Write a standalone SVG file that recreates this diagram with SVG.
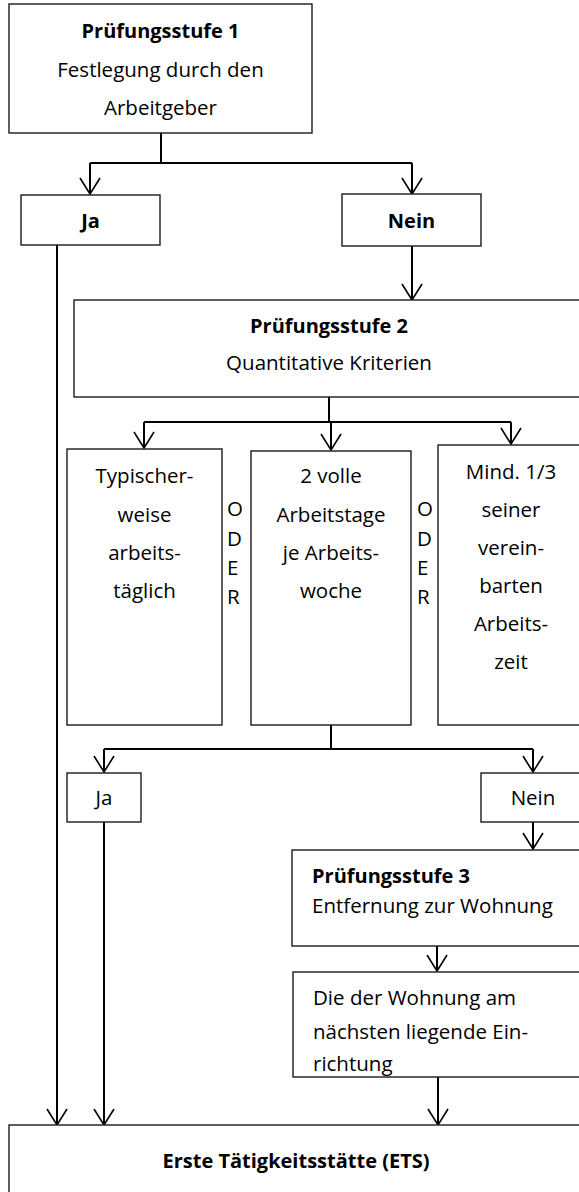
<svg xmlns="http://www.w3.org/2000/svg" width="579" height="1192" viewBox="0 0 579 1192">
<style>
.box{fill:#fff;stroke:#1a1a1a;stroke-width:1.4}
.con{fill:none;stroke:#000;stroke-width:2}
.t{font-family:"Open Sans","Liberation Sans",sans-serif;font-size:20.5px;fill:#000}
.b{font-weight:bold;font-size:20px}
.c{text-anchor:middle}
</style>
<defs>
<marker id="v" markerUnits="userSpaceOnUse" orient="auto" markerWidth="20" markerHeight="24" viewBox="-18 -12 20 24" refX="0" refY="0" overflow="visible">
<path d="M-16,-10 L0,0 L-16,10" fill="none" stroke="#000" stroke-width="1.6"/>
</marker>
</defs>
<rect width="579" height="1192" fill="#fff"/>
<g id="connectors">
<path class="con" d="M161,133 V163 M90,163 H412"/>
<path class="con" d="M90,163 V194" marker-end="url(#v)"/>
<path class="con" d="M412,163 V194" marker-end="url(#v)"/>
<path class="con" d="M57,245 V1125" marker-end="url(#v)"/>
<path class="con" d="M412,246 V300" marker-end="url(#v)"/>
<path class="con" d="M329,397 V422 M144,422 H511"/>
<path class="con" d="M144,422 V448" marker-end="url(#v)"/>
<path class="con" d="M331,422 V450" marker-end="url(#v)"/>
<path class="con" d="M511,422 V444" marker-end="url(#v)"/>
<path class="con" d="M331,725 V749 M104,749 H533"/>
<path class="con" d="M104,749 V772" marker-end="url(#v)"/>
<path class="con" d="M533,749 V772" marker-end="url(#v)"/>
<path class="con" d="M104,822 V1125" marker-end="url(#v)"/>
<path class="con" d="M533,822 V849" marker-end="url(#v)"/>
<path class="con" d="M437,946 V971" marker-end="url(#v)"/>
<path class="con" d="M438,1077 V1125" marker-end="url(#v)"/>
</g>
<g id="stufe1">
<rect class="box" x="9" y="4" width="303" height="129"/>
<text class="t b c" x="160.5" y="38">Prüfungsstufe 1</text>
<text class="t c" x="160.5" y="76.5">Festlegung durch den</text>
<text class="t c" x="160.5" y="115">Arbeitgeber</text>
</g>
<g id="ja1">
<rect class="box" x="21" y="195" width="139" height="50"/>
<text class="t b c" x="90.5" y="228">Ja</text>
</g>
<g id="nein1">
<rect class="box" x="342" y="194" width="139" height="52"/>
<text class="t b c" x="411.5" y="228">Nein</text>
</g>
<g id="stufe2">
<rect class="box" x="74" y="300" width="510" height="97"/>
<text class="t b c" x="329" y="333">Prüfungsstufe 2</text>
<text class="t c" x="329" y="370">Quantitative Kriterien</text>
</g>
<g id="kritA">
<rect class="box" x="67" y="449" width="155" height="276"/>
<text class="t c" x="144.5" y="483">Typischer-</text>
<text class="t c" x="144.5" y="521.5">weise</text>
<text class="t c" x="144.5" y="560">arbeits-</text>
<text class="t c" x="144.5" y="597.5">täglich</text>
</g>
<g id="oder1">
<text class="t" x="227" y="516">O</text>
<text class="t" x="227" y="546">D</text>
<text class="t" x="227" y="575">E</text>
<text class="t" x="227" y="603.5">R</text>
</g>
<g id="kritB">
<rect class="box" x="251" y="451" width="160" height="274"/>
<text class="t c" x="331" y="483">2 volle</text>
<text class="t c" x="331" y="521.5">Arbeitstage</text>
<text class="t c" x="331" y="560">je Arbeits-</text>
<text class="t c" x="331" y="597.5">woche</text>
</g>
<g id="oder2">
<text class="t" x="417" y="516">O</text>
<text class="t" x="417" y="546">D</text>
<text class="t" x="417" y="575">E</text>
<text class="t" x="417" y="603.5">R</text>
</g>
<g id="kritC">
<rect class="box" x="438" y="445" width="146" height="280"/>
<text class="t c" x="511" y="479">Mind. 1/3</text>
<text class="t c" x="511" y="517">seiner</text>
<text class="t c" x="511" y="555">verein-</text>
<text class="t c" x="511" y="593">barten</text>
<text class="t c" x="511" y="630.5">Arbeits-</text>
<text class="t c" x="511" y="668.5">zeit</text>
</g>
<g id="ja2">
<rect class="box" x="67" y="773" width="74" height="49"/>
<text class="t c" x="104" y="805">Ja</text>
</g>
<g id="nein2">
<rect class="box" x="481" y="773" width="104" height="49"/>
<text class="t c" x="533" y="805">Nein</text>
</g>
<g id="stufe3">
<rect class="box" x="292" y="850" width="292" height="96"/>
<text class="t b" x="312" y="883">Prüfungsstufe 3</text>
<text class="t" x="312" y="913">Entfernung zur Wohnung</text>
</g>
<g id="naechste">
<rect class="box" x="293" y="972" width="291" height="105"/>
<text class="t" x="313" y="1005">Die der Wohnung am</text>
<text class="t" x="313" y="1039">nächsten liegende Ein-</text>
<text class="t" x="313" y="1071">richtung</text>
</g>
<g id="ets">
<rect class="box" x="9" y="1125" width="575" height="80"/>
<text class="t b c" x="296" y="1168">Erste Tätigkeitsstätte (ETS)</text>
</g>
</svg>
